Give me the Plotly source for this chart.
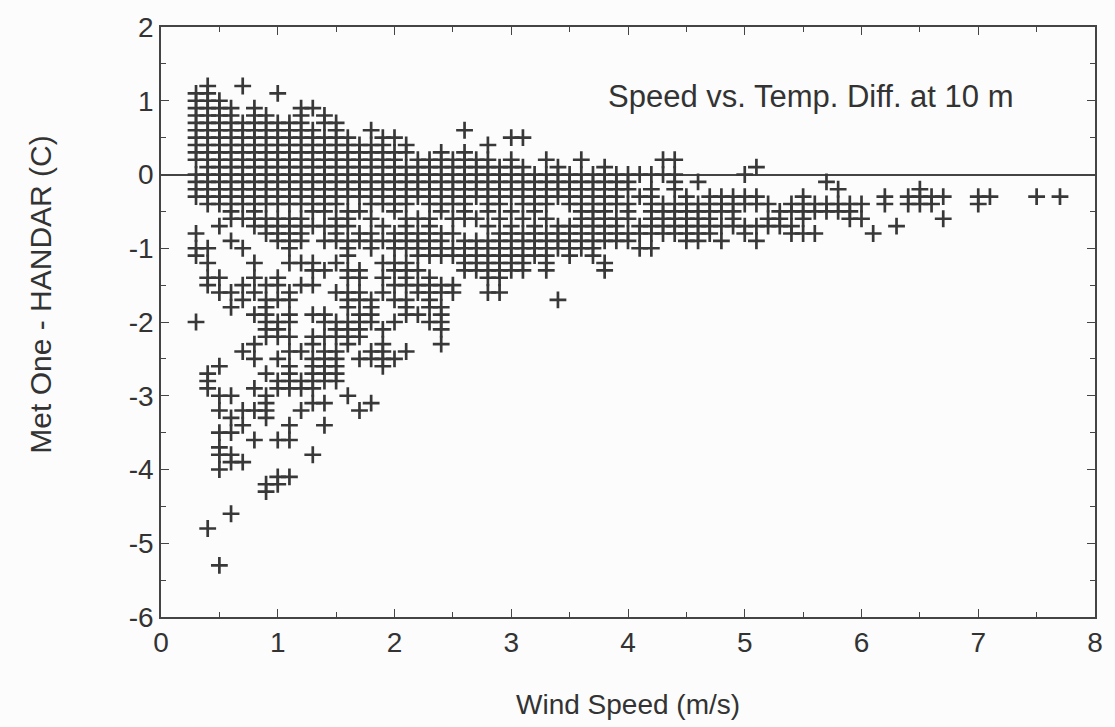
import plotly.graph_objects as go

# Wind speed columns (m/s) and, for each, the temperature differences read off the
# picture in tenths of a degree C ("a:b" = every 0.1 step observed from a to b).
wind_speed_cols = [
    0.3, 0.4, 0.5, 0.6, 0.7, 0.8, 0.9, 1.0, 1.1, 1.2,
    1.3, 1.4, 1.5, 1.6, 1.7, 1.8, 1.9, 2.0, 2.1, 2.2,
    2.3, 2.4, 2.5, 2.6, 2.7, 2.8, 2.9, 3.0, 3.1, 3.2,
    3.3, 3.4, 3.5, 3.6, 3.7, 3.8, 3.9, 4.0, 4.1, 4.2,
    4.3, 4.4, 4.5, 4.6, 4.7, 4.8, 4.9, 5.0, 5.1, 5.2,
    5.3, 5.4, 5.5, 5.6, 5.7, 5.8, 5.9, 6.0, 6.1, 6.2,
    6.3, 6.4, 6.5, 6.6, 6.7, 7.0, 7.1, 7.5, 7.7,
]
temp_diff_tenths = [
    "11:2 0:-3 -8 -10 -11 -20",
    "12:-4 -10 -12 -14 -15 -27 -28 -29 -48",
    "10:-4 -7 -14 -16 -26 -30 -32 -35 -37 -38 -40 -53",
    "9:-6 -9 -16 -18 -30 -33 -35 -38 -39 -46",
    "12 7:-4 -6 -10 -15 -17 -24 -32 -34 -39",
    "9:-7 -12 -14 -16 -19 -23 -25 -29 -32 -36",
    "8:-4 -6:-8 -15 -17:-22 -27 -30:-33 -42 -43",
    "11 7:-4 -6:-9 -14 -15 -17 -20:-22 -25 -28 -29 -36 -41 -42",
    "7:-4 -6:-10 -12 -16 -17 -19 -20 -22 -24 -26:-29 -34 -36 -41",
    "9:-4 -6:-9 -12 -15 -24 -28 -29 -32",
    "9 6:-5 -7 -12 -13 -15 -19 -22 -23 -25:-29 -31 -38",
    "8 7 5:-5 -7 -9 -13 -19 -20 -22 -24:-28 -31 -34",
    "7:-4 -6:-9 -12 -16 -20:-22 -24:-28",
    "5:-3 -5:-7 -9:-11 -13 -14 -16:-18 -20:-23 -30",
    "4:-3 -5 -8 -9 -13 -14 -16 -17 -19:-22 -25 -32",
    "6 4:-4 -6 -8:-10 -17:-20 -24 -25 -31",
    "5:-4 -7 -9 -12 -14 -16 -21 -23 -24 -25 -26",
    "5 3:-5 -8:-10 -12 -13 -15 -17 -20 -25",
    "4 3 1:-4 -6:-10 -12:-15 -17:-19 -24",
    "2:-3 -6 -8:-11 -13 -15 -16 -19",
    "2:-4 -6:-11 -14:-18 -20",
    "3 2:-5 -8:-11 -15 -16 -18:-21 -23",
    "2:-4 -6 -8 -10 -11 -15 -16",
    "6 3 2:-5 -6 -9:-13",
    "2:-3 -6 -9:-13",
    "4 2:-5 -7 -9:-14 -16",
    "1:-4 -6 -8:-14 -16",
    "5 2 1:-3 -5 -7:-13",
    "5 1:-4 -6 -8:-13",
    "0:-5 -7:-11",
    "2 0:-4 -6 -8:-13",
    "1 0:-3 -7:-10 -17",
    "0:-4 -7:-11",
    "2 0:-6 -7:-10",
    "0:-5 -6:-11",
    "1 0:-5 -6:-9 -12 -13",
    "0:-4 -6:-9",
    "0:-2 -4:-6 -8 -9",
    "0 -3 -7 -8 -10",
    "0 -2:-8 -10",
    "2 0 -4:-8",
    "2 0:-2 -4:-8",
    "-3:-9",
    "-1 -4:-9",
    "-3:-8",
    "-3:-5 -7 -9",
    "-3:-7",
    "0 -3 -4 -7 -8",
    "1 -3 -4 -7 -9",
    "-4 -6 -7",
    "-5:-7",
    "-4 -5 -7 -8",
    "-3:-6 -8",
    "-4 -5 -8",
    "-1 -4 -5",
    "-2 -4 -5",
    "-4:-6",
    "-4 -6",
    "-8",
    "-3 -4",
    "-7",
    "-3 -4",
    "-2:-4",
    "-3 -4",
    "-3 -6",
    "-3 -4",
    "-3",
    "-3",
    "-3",
]

x_tick_vals = [0, 1, 2, 3, 4, 5, 6, 7, 8]
y_tick_vals = [2, 1, 0, -1, -2, -3, -4, -5, -6]
y_tick_text = ["2", "1", "0", "-1", "-2", "-3", "-4", "-5", "-6"]


def expand(spec):
    out = []
    for tok in spec.split():
        if ":" in tok:
            a, b = (int(v) for v in tok.split(":"))
            step = -1 if a > b else 1
            out.extend(range(a, b + step, step))
        else:
            out.append(int(tok))
    return out


xs, ys = [], []
for ws, spec in zip(wind_speed_cols, temp_diff_tenths):
    for t in expand(spec):
        xs.append(ws)
        ys.append(t / 10.0)

FONT = "Liberation Sans"
INK = "#383838"

fig = go.Figure()
fig.add_trace(go.Scatter(
    x=xs, y=ys, mode="markers",
    marker=dict(symbol="cross-thin", size=12, color=INK,
                line=dict(width=2.7, color=INK)),
    showlegend=False, hoverinfo="skip",
))

axis_common = dict(
    showgrid=False, showline=True, linecolor="#444", linewidth=1.5,
    mirror="allticks", ticks="inside", ticklen=8, tickwidth=1.3, tickcolor="#444",
    tickfont=dict(family=FONT, size=28, color="#333"),
)
fig.update_xaxes(range=[0, 8], tickvals=x_tick_vals, zeroline=False,
                 minor=dict(ticks="inside", dtick=0.5, ticklen=5, tickcolor="#444"),
                 **axis_common)
fig.update_yaxes(range=[-6, 2], tickvals=y_tick_vals, ticktext=y_tick_text,
                 zeroline=True, zerolinecolor="#444", zerolinewidth=1.5,
                 minor=dict(ticks="inside", dtick=0.5, ticklen=5, tickcolor="#444"),
                 **axis_common)

fig.update_layout(
    width=1115, height=727,
    margin=dict(l=161, r=14, t=18, b=110),
    paper_bgcolor="#fcfcfc", plot_bgcolor="#fcfcfc",
    annotations=[
        dict(text="Speed vs. Temp. Diff. at 10 m", xref="paper", yref="paper",
             x=0.6957, y=0.883, xanchor="center", yanchor="middle", showarrow=False,
             font=dict(family=FONT, size=31, color="#333")),
        dict(text="Wind Speed (m/s)", xref="paper", yref="paper",
             x=0.5, y=-0.1486, xanchor="center", yanchor="middle", showarrow=False,
             font=dict(family=FONT, size=28, color="#333")),
        dict(text="Met One - HANDAR (C)", xref="paper", yref="paper",
             x=-0.1287, y=0.546, xanchor="center", yanchor="middle", showarrow=False,
             textangle=-90, font=dict(family=FONT, size=30, color="#333")),
    ],
)

fig.write_html("out.html")
